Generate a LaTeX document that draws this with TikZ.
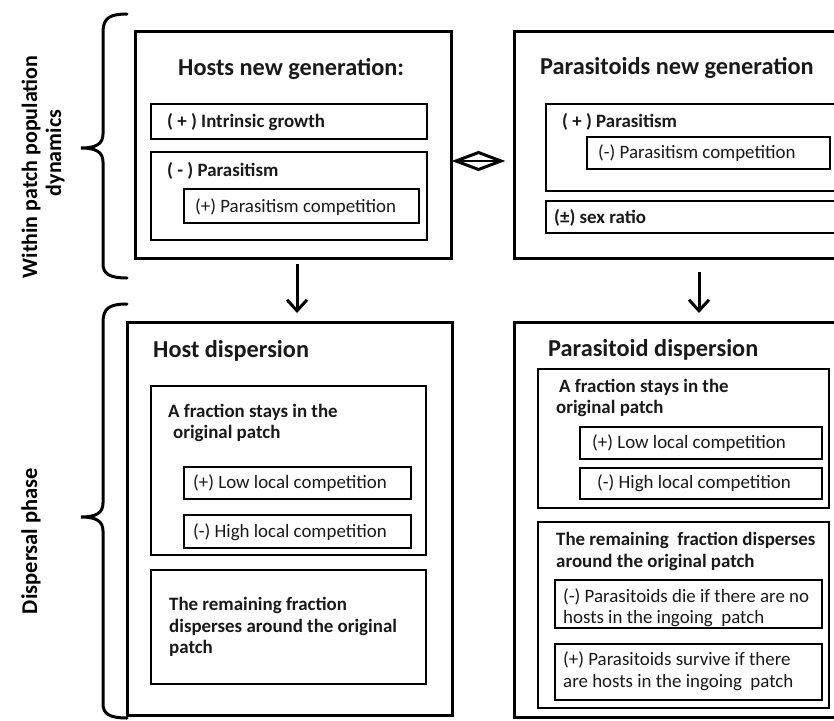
\documentclass[tikz,border=0pt]{standalone}
\usepackage{fontspec}
\setmainfont{Carlito}
\usetikzlibrary{arrows.meta}
\newcommand\ttlf{\fontsize{24.3}{28}\selectfont\bfseries}
\newcommand\bodf{\fontsize{18.9}{22}\selectfont}
\newcommand\bodb{\fontsize{18.9}{22}\selectfont\bfseries}
\newcommand\sidef{\fontsize{22}{26}\selectfont\bfseries}
\newcommand\sidefb{\fontsize{22.5}{26}\selectfont\bfseries}
\tikzset{
  obox/.style={draw, line width=3pt, inner sep=0pt, anchor=north west},
  mbox/.style={draw, line width=2.4pt, inner sep=0pt, anchor=north west},
  ibox/.style={draw, line width=1.5pt, inner sep=0pt, anchor=north west},
  lbl/.style={anchor=base west, inner sep=0pt, text=black!90},
  arr/.style={line width=3pt, -{Straight Barb[length=11pt,width=20pt,line width=3pt]}},
  brace/.style={line width=3pt, line cap=round},
}
\newcommand\bx[6]{\node[#1, minimum width=#4pt, minimum height=#5pt] (#6) at (#2,#3) {};}
\begin{document}
\begin{tikzpicture}[x=1pt,y=-1pt]
\useasboundingbox (0,0) rectangle (834,720);
\clip (0,0) rectangle (834,720);
\fill[white] (0,0) rectangle (834,720);
% top row boxes
\bx{obox}{134}{30}{316}{227}{hostgen}
\bx{mbox}{150}{103}{276}{35}{intr}
\bx{mbox}{150}{151}{276}{88}{hpara}
\bx{ibox}{183}{188}{235}{34}{hcomp}
\bx{obox}{513}{30}{337}{227}{paragen}
\bx{mbox}{545}{103}{305}{87}{ppara}
\bx{ibox}{586}{136}{243}{32}{pcomp}
\bx{mbox}{545}{200}{305}{32}{sex}
% bottom row boxes
\bx{obox}{126}{321}{325}{393}{hdisp}
\bx{mbox}{150}{385}{275}{169}{hstay}
\bx{ibox}{183}{466}{227}{32}{hlow}
\bx{ibox}{183}{514}{227}{33}{hhigh}
\bx{mbox}{150}{569}{275}{114}{hrem}
\bx{obox}{513}{321}{337}{395}{pdisp}
\bx{mbox}{537}{368}{291}{139}{pstay}
\bx{ibox}{579}{426}{242}{32}{plow}
\bx{ibox}{579}{467}{242}{31}{phigh}
\bx{mbox}{537}{521}{291}{186}{prem}
\bx{ibox}{554}{579}{267}{48}{pdie}
\bx{ibox}{554}{643}{267}{56}{psurv}
% texts top
\node[lbl,font=\ttlf] (t1) at (178,75) {Hosts new generation:};
\node[lbl,font=\bodb] (t2) at (167,127) {( + ) Intrinsic growth};
\node[lbl,font=\bodb] (t3) at (167,176) {( - ) Parasitism};
\node[lbl,font=\bodf] (t4) at (195,212) {(+) Parasitism competition};
\node[lbl,font=\ttlf] (t5) at (540,74) {Parasitoids new generation};
\node[lbl,font=\bodb] (t6) at (562,127) {( + ) Parasitism};
\node[lbl,font=\bodf] (t7) at (598,158) {(-) Parasitism competition};
\node[lbl,font=\bodb] (t8) at (554,223) {(±) sex ratio};
% texts bottom left
\node[lbl,font=\ttlf] (t9) at (153,357) {Host dispersion};
\node[lbl,font=\bodb] (t10) at (168,417) {A fraction stays in the};
\node[lbl,font=\bodb] (t11) at (173,438) {original patch};
\node[lbl,font=\bodf] (t12) at (193,488) {(+) Low local competition};
\node[lbl,font=\bodf] (t13) at (193,537) {(-) High local competition};
\node[lbl,font=\bodb] (t14) at (169,610) {The remaining fraction};
\node[lbl,font=\bodb] (t15) at (169,632) {disperses around the original};
\node[lbl,font=\bodb] (t16) at (169,653) {patch};
% texts bottom right
\node[lbl,font=\ttlf] (t17) at (548,356) {Parasitoid dispersion};
\node[lbl,font=\bodb] (t18) at (559,392) {A fraction stays in the};
\node[lbl,font=\bodb] (t19) at (556,413) {original patch};
\node[lbl,font=\bodf] (t20) at (592,448) {(+) Low local competition};
\node[lbl,font=\bodf] (t21) at (597,488) {(-) High local competition};
\node[lbl,font=\bodb] (t22) at (556,545) {The remaining\ \ fraction disperses};
\node[lbl,font=\bodb] (t23) at (556,567) {around the original patch};
\node[lbl,font=\bodf] (t24) at (563,602) {(-) Parasitoids die if there are no};
\node[lbl,font=\bodf] (t25) at (563,623) {hosts in the ingoing\ \ patch};
\node[lbl,font=\bodf] (t26) at (563,665) {(+) Parasitoids survive if there};
\node[lbl,font=\bodf] (t27) at (563,687) {are hosts in the ingoing\ \ patch};
% side labels
\node[font=\sidef, rotate=90, anchor=base, inner sep=0pt] (s1) at (37,167) {Within patch population};
\node[font=\sidef, rotate=90, anchor=base, inner sep=0pt] (s2) at (61,153) {dynamics};
\node[font=\sidefb, rotate=90, anchor=base, inner sep=0pt] (s3) at (37,541) {Dispersal phase};
% braces
\draw[brace] (127,14) .. controls (110,14) and (103,18) .. (103,32) -- (103,134)
  .. controls (103,144) and (96,148) .. (81,148)
  .. controls (96,148) and (103,152) .. (103,162) -- (103,264)
  .. controls (103,274) and (110,278) .. (127,278);
\draw[brace] (127,304) .. controls (110,304) and (103,308) .. (103,322) -- (103,503)
  .. controls (103,513) and (96,517) .. (81,517)
  .. controls (96,517) and (103,521) .. (103,531) -- (103,704)
  .. controls (103,714) and (110,718) .. (127,718);
% arrows down
\coordinate (a1s) at (297,264);
\coordinate (a1e) at (297,313);
\coordinate (a2s) at (699,272);
\coordinate (a2e) at (699,313);
\draw[arr] (a1s) -- (a1e);
\draw[arr] (a2s) -- (a2e);
% double arrow diamond
\coordinate (dl) at (456,161);
\coordinate (dr) at (501,161);
\draw[line width=3pt, line join=miter] (dl) -- (478.5,152.5) -- (dr) -- (478.5,169.5) -- cycle;
\draw[line width=1.5pt] (dl) -- (dr);
\end{tikzpicture}
\end{document}
